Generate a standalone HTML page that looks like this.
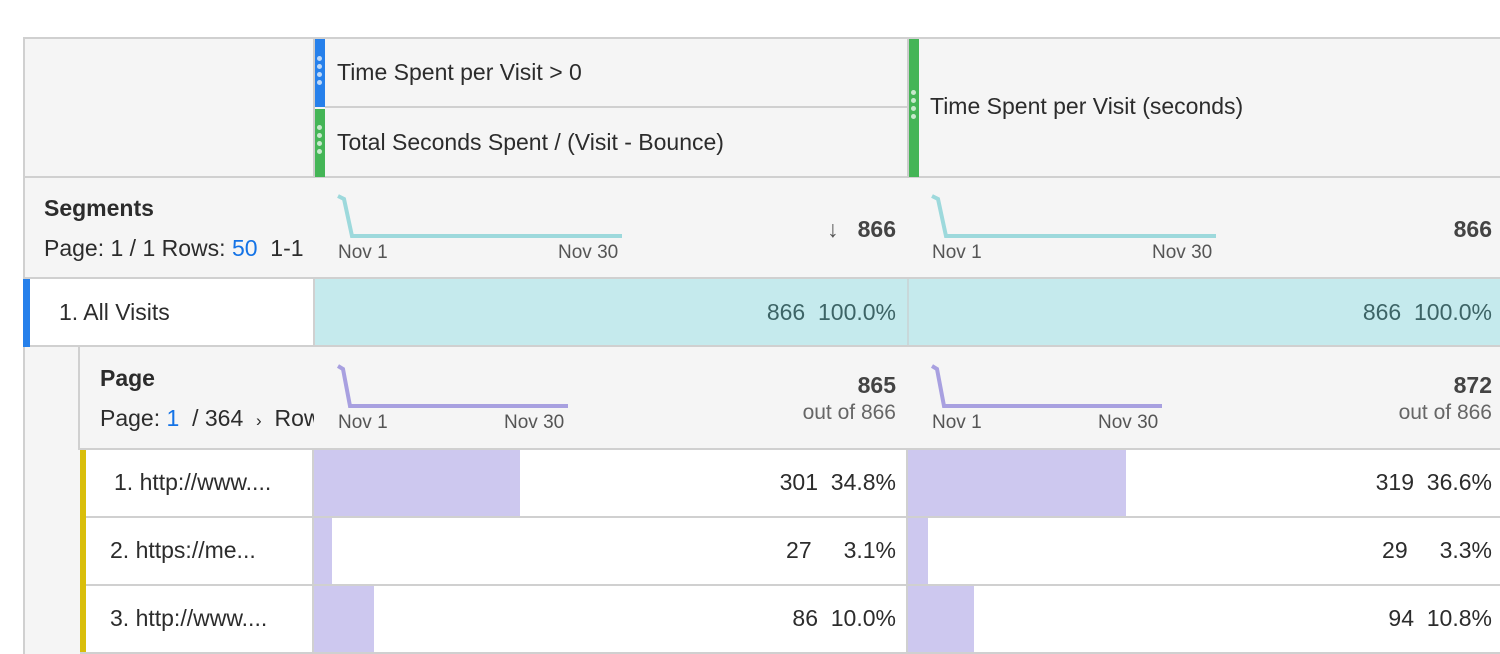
<!DOCTYPE html>
<html><head><style>
body{margin:0;width:1500px;height:654px;background:#fff;position:relative;overflow:hidden;font-family:"Liberation Sans",sans-serif;color:#2c2c2c}
div{position:absolute;box-sizing:border-box}
.t{white-space:nowrap;font-size:23px}
.s{white-space:nowrap;font-size:19px;color:#555}
.r{text-align:right}
.b{font-weight:bold}
.g{background:#f5f5f5}
.hl{background:#d0d0d0;height:2px}
.vl{background:#d0d0d0;width:2px}
.dot{width:5px;height:5px;border-radius:50%;background:rgba(255,255,255,.7);left:3px}
</style></head><body>
<div class="g" style="left:23px;top:37px;width:1480px;height:141px;border:2px solid #d0d0d0;border-right:none"></div>
<div style="left:315px;top:39px;width:10px;height:68px;background:#2680eb"></div>
<div style="left:315px;top:109px;width:10px;height:68px;background:#44b556"></div>
<div style="left:909px;top:39px;width:10px;height:138px;background:#44b556"></div>
<div class="vl" style="left:313px;top:39px;height:139px;background:#ccc"></div>
<div class="vl" style="left:907px;top:39px;height:139px;background:#ccc"></div>
<div class="hl" style="left:325px;top:106px;width:582px"></div>
<div class="dot" style="left:317px;top:56px"></div><div class="dot" style="left:317px;top:64px"></div><div class="dot" style="left:317px;top:72px"></div><div class="dot" style="left:317px;top:80px"></div>
<div class="dot" style="left:317px;top:125px"></div><div class="dot" style="left:317px;top:133px"></div><div class="dot" style="left:317px;top:141px"></div><div class="dot" style="left:317px;top:149px"></div>
<div class="dot" style="left:911px;top:90px"></div><div class="dot" style="left:911px;top:98px"></div><div class="dot" style="left:911px;top:106px"></div><div class="dot" style="left:911px;top:114px"></div>
<div class="t" style="left:337px;top:59px">Time Spent per Visit &gt; 0</div>
<div class="t" style="left:337px;top:129px">Total Seconds Spent / (Visit - Bounce)</div>
<div class="t" style="left:930px;top:93px">Time Spent per Visit (seconds)</div>
<div class="g" style="left:23px;top:178px;width:1480px;height:101px;border-left:2px solid #d0d0d0;border-bottom:2px solid #d0d0d0"></div>
<div class="t b" style="left:44px;top:195px">Segments</div>
<div class="t" style="left:44px;top:235px;width:270px;overflow:hidden">Page: 1 / 1 Rows: <span style="color:#1473e6">50</span> &nbsp;1-1</div>
<svg style="position:absolute;left:330px;top:190px" width="300" height="60"><polyline points="8,6 14,9 22,46 292,46" fill="none" stroke="#9dd9dc" stroke-width="4"/></svg>
<svg style="position:absolute;left:924px;top:190px" width="300" height="60"><polyline points="8,6 14,9 22,46 292,46" fill="none" stroke="#9dd9dc" stroke-width="4"/></svg>
<div class="s" style="left:338px;top:242px">Nov 1</div><div class="s" style="left:558px;top:242px">Nov 30</div>
<div class="s" style="left:932px;top:242px">Nov 1</div><div class="s" style="left:1152px;top:242px">Nov 30</div>
<div class="t b r" style="left:700px;top:216px;width:196px;color:#444"><span style="font-weight:normal;color:#555">↓</span>&nbsp;&nbsp;&nbsp;866</div>
<div class="t b r" style="left:1300px;top:216px;width:192px;color:#444">866</div>
<div style="left:23px;top:279px;width:291px;height:68px;background:#fff;border-bottom:2px solid #d0d0d0"></div>
<div style="left:23px;top:279px;width:7px;height:68px;background:#2680eb"></div>
<div style="left:313px;top:279px;width:1190px;height:68px;background:#c5eaed;border-bottom:2px solid #d0d0d0;border-left:2px solid #d0d0d0"></div>
<div class="vl" style="left:907px;top:279px;height:66px;background:#c8d8da"></div>
<div class="t" style="left:59px;top:299px">1. All Visits</div>
<div class="t r" style="left:600px;top:299px;width:296px;color:#3d6466">866&nbsp;&nbsp;100.0%</div>
<div class="t r" style="left:1190px;top:299px;width:302px;color:#3d6466">866&nbsp;&nbsp;100.0%</div>
<div class="g" style="left:23px;top:347px;width:57px;height:307px;border-left:2px solid #d0d0d0"></div>
<div class="g" style="left:78px;top:347px;width:1425px;height:103px;border-left:2px solid #d0d0d0;border-bottom:2px solid #d0d0d0"></div>
<div class="t b" style="left:100px;top:365px">Page</div>
<div class="t" style="left:100px;top:405px;width:214px;overflow:hidden">Page: <span style="color:#1473e6">1</span> &nbsp;/ 364 &nbsp;<span style="font-size:17px">›</span>&nbsp; Rows</div>
<svg style="position:absolute;left:330px;top:360px" width="250" height="60"><polyline points="8,6 13,9 20,46 238,46" fill="none" stroke="#a8a0e0" stroke-width="4"/></svg>
<svg style="position:absolute;left:924px;top:360px" width="250" height="60"><polyline points="8,6 13,9 20,46 238,46" fill="none" stroke="#a8a0e0" stroke-width="4"/></svg>
<div class="s" style="left:338px;top:412px">Nov 1</div><div class="s" style="left:504px;top:412px">Nov 30</div>
<div class="s" style="left:932px;top:412px">Nov 1</div><div class="s" style="left:1098px;top:412px">Nov 30</div>
<div class="t b r" style="left:700px;top:372px;width:196px;color:#444">865</div>
<div class="t r" style="left:700px;top:401px;width:196px;color:#666;font-size:21px">out of 866</div>
<div class="t b r" style="left:1296px;top:372px;width:196px;color:#444">872</div>
<div class="t r" style="left:1296px;top:401px;width:196px;color:#666;font-size:21px">out of 866</div>
<div style="left:80px;top:450px;width:1423px;height:204px;background:#fff"></div>
<div style="left:80px;top:450px;width:6px;height:204px;background:#d9be0b"></div>
<div class="vl" style="left:312px;top:450px;height:204px;background:#d0d0d0"></div>
<div class="vl" style="left:906px;top:450px;height:204px;background:#d0d0d0"></div>
<div class="hl" style="left:86px;top:516px;width:1417px"></div>
<div class="hl" style="left:86px;top:584px;width:1417px"></div>
<div class="hl" style="left:80px;top:652px;width:1423px"></div>
<div style="left:314px;top:450px;width:206px;height:66px;background:#cdc8ef"></div>
<div style="left:908px;top:450px;width:218px;height:66px;background:#cdc8ef"></div>
<div style="left:314px;top:518px;width:18px;height:66px;background:#cdc8ef"></div>
<div style="left:908px;top:518px;width:20px;height:66px;background:#cdc8ef"></div>
<div style="left:314px;top:586px;width:60px;height:66px;background:#cdc8ef"></div>
<div style="left:908px;top:586px;width:66px;height:66px;background:#cdc8ef"></div>
<div class="t" style="left:114px;top:469px">1. http://www....</div>
<div class="t" style="left:110px;top:537px">2. https://me...</div>
<div class="t" style="left:110px;top:605px">3. http://www....</div>
<div class="t r" style="left:600px;top:469px;width:296px">301&nbsp;&nbsp;34.8%</div>
<div class="t r" style="left:600px;top:537px;width:296px">27&nbsp;&nbsp;&nbsp;&nbsp;&nbsp;3.1%</div>
<div class="t r" style="left:600px;top:605px;width:296px">86&nbsp;&nbsp;10.0%</div>
<div class="t r" style="left:1190px;top:469px;width:302px">319&nbsp;&nbsp;36.6%</div>
<div class="t r" style="left:1190px;top:537px;width:302px">29&nbsp;&nbsp;&nbsp;&nbsp;&nbsp;3.3%</div>
<div class="t r" style="left:1190px;top:605px;width:302px">94&nbsp;&nbsp;10.8%</div>
</body></html>
